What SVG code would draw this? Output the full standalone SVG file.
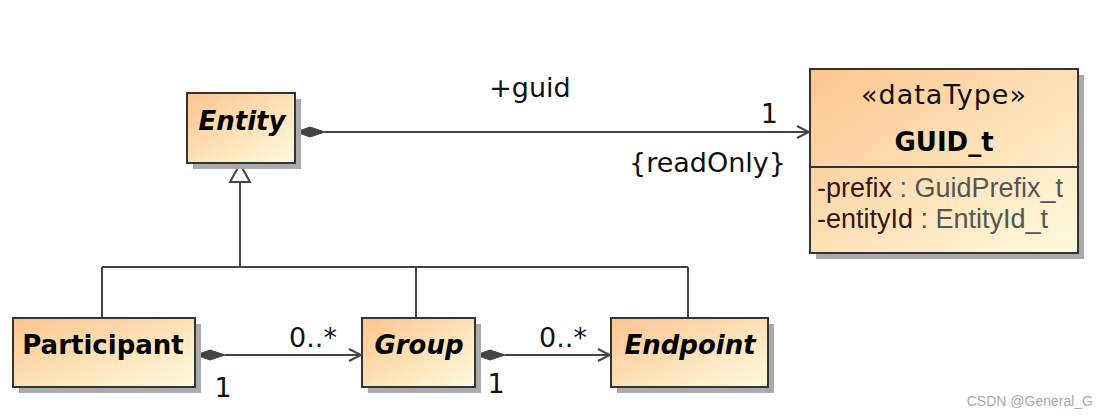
<svg xmlns="http://www.w3.org/2000/svg" width="1107" height="418" viewBox="0 0 1107 418">
<defs>
<linearGradient id="fill" x1="0" y1="0" x2="1" y2="1">
<stop offset="0" stop-color="#fcc58e"/>
<stop offset="1" stop-color="#fffbde"/>
</linearGradient>
<marker id="open" markerWidth="16" markerHeight="16" refX="14" refY="8" orient="auto" markerUnits="userSpaceOnUse">
<path d="M2,2 L14,8 L2,14" fill="none" stroke="#444" stroke-width="2"/>
</marker>
</defs>
<style>
.box{fill:url(#fill);stroke:#333;stroke-width:2}
.shadow{fill:#aaa}
.ln{stroke:#444;stroke-width:2;fill:none}
.dia{fill:#444;stroke:#444;stroke-width:1}
.lbl{font-family:"DejaVu Sans",sans-serif;font-size:27px;fill:#111}
.name{font-family:"DejaVu Sans",sans-serif;font-size:26px;font-weight:bold;fill:#000}
.it{font-style:italic}
.attr{font-family:"Liberation Sans",Arial,sans-serif;font-size:27px}
</style>
<g id="connectors">
<line class="ln" x1="325" y1="132" x2="809" y2="132" marker-end="url(#open)"/>
<path class="dia" d="M296,132 L310,127 L325,132 L310,137 Z"/>
<path class="ln" d="M240,182 V267 M102,267 H688 M102,267 V318 M416,267 V318 M688,267 V318"/>
<path d="M240,164 L250,182 L230,182 Z" fill="#fff" stroke="#444" stroke-width="2"/>
<line class="ln" x1="225" y1="355" x2="361" y2="355" marker-end="url(#open)"/>
<path class="dia" d="M196,355 L210,350 L225,355 L210,360 Z"/>
<line class="ln" x1="505" y1="355" x2="610" y2="355" marker-end="url(#open)"/>
<path class="dia" d="M476,355 L490,350 L505,355 L490,360 Z"/>
<text class="lbl" x="530" y="97" text-anchor="middle">+guid</text>
<text class="lbl" x="778" y="123" text-anchor="end">1</text>
<text class="lbl" x="786" y="172" text-anchor="end">{readOnly}</text>
<text class="lbl" x="313" y="347" text-anchor="middle">0..*</text>
<text class="lbl" x="223" y="397" text-anchor="middle">1</text>
<text class="lbl" x="563" y="347" text-anchor="middle">0..*</text>
<text class="lbl" x="496" y="393" text-anchor="middle">1</text>
</g>
<g id="entity">
<rect class="shadow" x="193" y="99" width="108" height="70"/>
<rect class="box" x="187" y="93" width="108" height="70"/>
<text class="name it" x="242" y="130" text-anchor="middle">Entity</text>
</g>
<g id="guid">
<rect class="shadow" x="816" y="75" width="268" height="184"/>
<rect class="box" x="810" y="69" width="268" height="184"/>
<line x1="810" y1="167" x2="1078" y2="167" stroke="#333" stroke-width="2"/>
<text class="lbl" x="944" y="104" text-anchor="middle" letter-spacing="1">«dataType»</text>
<text class="name" x="944" y="151" text-anchor="middle" font-size="28">GUID_t</text>
<text class="attr" x="817" y="197"><tspan fill="#3a1510">-prefix</tspan><tspan fill="#555"> : GuidPrefix_t</tspan></text>
<text class="attr" x="817" y="228"><tspan fill="#3a1510">-entityId</tspan><tspan fill="#555"> : EntityId_t</tspan></text>
</g>
<g id="participant">
<rect class="shadow" x="19" y="324" width="182" height="69"/>
<rect class="box" x="13" y="318" width="182" height="69"/>
<text class="name" x="103" y="354" text-anchor="middle">Participant</text>
</g>
<g id="group">
<rect class="shadow" x="368" y="324" width="113" height="69"/>
<rect class="box" x="362" y="318" width="113" height="69"/>
<text class="name it" x="419" y="354" text-anchor="middle">Group</text>
</g>
<g id="endpoint">
<rect class="shadow" x="617" y="324" width="157" height="69"/>
<rect class="box" x="611" y="318" width="157" height="69"/>
<text class="name it" x="690" y="354" text-anchor="middle">Endpoint</text>
</g>
<text x="1093" y="406" text-anchor="end" font-family="Liberation Sans, Arial, sans-serif" font-size="14" fill="#aaa">CSDN @General_G</text>
</svg>
